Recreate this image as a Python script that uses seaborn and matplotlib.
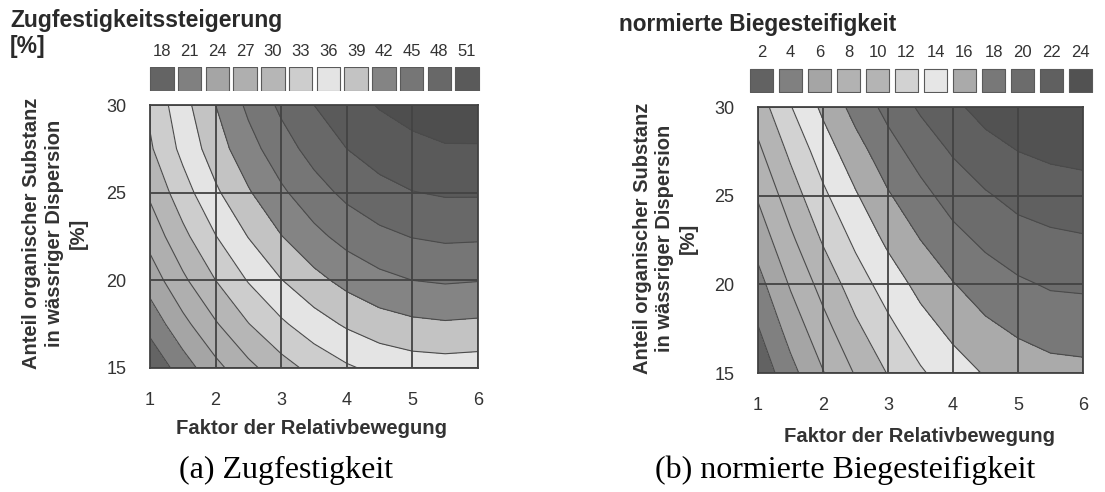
import numpy as np
import matplotlib
matplotlib.use("Agg")
import matplotlib.pyplot as plt
import seaborn as sns

# shared axes: factor of relative motion (x) and organic share in dispersion (y)
x_factor = [1.0, 1.5, 2.0, 2.5, 3.0, 3.5, 4.0, 4.5, 5.0, 5.5, 6.0]
y_share = [15.0, 17.5, 20.0, 22.5, 25.0, 27.5, 30.0]

# (a) Zugfestigkeitssteigerung [%], one row per y_share value
zug_rows = [
    [18.5, 22.5, 26.1, 29.2, 31.8, 33.9, 35.6, 36.8, 37.5, 37.7, 37.5],
    [22.1, 26.1, 29.7, 32.9, 35.5, 37.7, 39.4, 40.7, 41.4, 41.7, 41.5],
    [25.3, 29.4, 33.0, 36.2, 38.9, 41.1, 42.9, 44.2, 45.0, 45.3, 45.1],
    [28.1, 32.2, 35.9, 39.1, 41.9, 44.2, 46.0, 47.3, 48.1, 48.5, 48.4],
    [30.5, 34.7, 38.5, 41.7, 44.5, 46.8, 48.7, 50.0, 50.9, 51.3, 51.3],
    [32.6, 36.8, 40.6, 43.9, 46.7, 49.1, 51.0, 52.4, 53.3, 53.8, 53.8],
    [33.6, 37.9, 42.0, 45.6, 48.6, 51.0, 52.9, 54.2, 55.0, 55.4, 55.5],
]
zug_levels = [18, 21, 24, 27, 30, 33, 36, 39, 42, 45, 48, 51]
zug_grays = [100, 128, 165, 175, 182, 205, 228, 195, 132, 118, 104, 90, 78]

# (b) normierte Biegesteifigkeit
bieg_rows = [
    [2.5, 5.35, 7.9, 10.15, 12.1, 13.75, 15.1, 16.15, 16.9, 17.35, 17.5],
    [3.9, 6.8, 9.3, 11.6, 13.5, 15.2, 16.5, 17.6, 18.3, 18.8, 18.9],
    [5.3, 8.2, 10.7, 13.0, 14.9, 16.6, 17.9, 19.0, 19.7, 20.2, 20.3],
    [6.8, 9.6, 12.2, 14.4, 16.4, 18.0, 19.4, 20.4, 21.2, 21.6, 21.8],
    [8.2, 11.0, 13.6, 15.8, 17.8, 19.4, 20.8, 21.8, 22.6, 23.0, 23.2],
    [9.6, 12.4, 15.0, 17.2, 19.2, 20.8, 22.2, 23.3, 24.0, 24.4, 24.6],
    [11.0, 13.9, 16.4, 18.7, 20.6, 22.3, 23.6, 24.7, 25.4, 25.9, 26.0],
]
bieg_levels = [2, 4, 6, 8, 10, 12, 14, 16, 18, 20, 22, 24]
bieg_grays = [98, 128, 165, 178, 180, 210, 230, 170, 120, 108, 96, 82, 72]

x_ticks = [1, 2, 3, 4, 5, 6]
y_ticks = [15, 20, 25, 30]

sns.set_theme(style="white")
plt.rcParams["font.family"] = ["Liberation Sans", "DejaVu Sans"]

W, H = 1105, 492
fig = plt.figure(figsize=(W / 100, H / 100), dpi=100)


def px(x0, y0, x1, y1):
    return [x0 / W, 1 - y1 / H, (x1 - x0) / W, (y1 - y0) / H]


def hexgray(g):
    return "#{0:02x}{0:02x}{0:02x}".format(g)


def contour_panel(rect, rows, levels, grays):
    ax = fig.add_axes(rect)
    step = levels[1] - levels[0]
    bounds = levels + [levels[-1] + step]
    cols = [hexgray(g) for g in grays]
    X, Y = np.meshgrid(x_factor, y_share)
    Z = np.array(rows)
    ax.contourf(X, Y, Z, levels=bounds, colors=cols, extend="max")
    ax.contour(X, Y, Z, levels=bounds, colors="#4a4a4a", linewidths=0.8)
    ax.set_xlim(1, 6)
    ax.set_ylim(15, 30)
    ax.set_xticks(x_ticks)
    ax.set_yticks(y_ticks)
    ax.grid(True, color="#434343", linewidth=1.3)
    ax.set_axisbelow(False)
    ax.tick_params(length=0, pad=17, labelsize=13, labelcolor="#333333")
    for s in ax.spines.values():
        s.set_color("#434343")
        s.set_linewidth(1.3)
    return ax


def legend_strip(rect, levels, grays):
    ax = fig.add_axes(rect)
    cols = [hexgray(g) for g in grays[:len(levels)]]
    labels = [str(v) for v in levels]
    sns.scatterplot(x=list(range(len(levels))), y=[0] * len(levels), hue=labels,
                    palette=cols, marker="s", s=290, edgecolor="#5a5a5a",
                    linewidth=0.8, legend=False, ax=ax)
    ax.set_xlim(-0.5, len(levels) - 0.5)
    ax.set_ylim(-0.5, 0.5)
    ax.xaxis.tick_top()
    ax.set_xticks(range(len(levels)))
    ax.set_xticklabels(labels)
    ax.set_yticks([])
    ax.set_xlabel("")
    ax.set_ylabel("")
    ax.tick_params(length=0, pad=6, labelsize=12, labelcolor="#333333")
    for s in ax.spines.values():
        s.set_visible(False)
    ax.patch.set_alpha(0)
    return ax


def text_px(x, y, s, **kw):
    fig.text(x / W, 1 - y / H, s, **kw)


ylabel_lines = ["Anteil organischer Substanz", "in wässriger Dispersion", "[%]"]

# panel (a)
contour_panel(px(150, 105, 478, 368), zug_rows, zug_levels, zug_grays)
legend_strip(px(148, 67, 481, 91), zug_levels, zug_grays)
text_px(10, 21, "Zugfestigkeitssteigerung", fontsize=16.5, fontweight="bold",
        color="#2a2a2a", va="center", ha="left")
text_px(10, 47, "[%]", fontsize=16.5, fontweight="bold", color="#2a2a2a",
        va="center", ha="left")
for xc, line in zip([32, 55, 78], ylabel_lines):
    text_px(xc, 233, line, fontsize=14.5, fontweight="bold", color="#333333",
            rotation=90, va="center", ha="center")
text_px(311, 428, "Faktor der Relativbewegung", fontsize=14.6, fontweight="bold",
        color="#333333", va="center", ha="center")
text_px(286, 470, "(a) Zugfestigkeit", fontsize=23, family="Liberation Serif",
        color="black", va="center", ha="center")

# panel (b)
contour_panel(px(758, 107, 1083, 373), bieg_rows, bieg_levels, bieg_grays)
legend_strip(px(747, 68, 1095, 93), bieg_levels, bieg_grays)
text_px(619, 25, "normierte Biegesteifigkeit", fontsize=16.3, fontweight="bold",
        color="#2a2a2a", va="center", ha="left")
for xc, line in zip([642, 664, 688], ylabel_lines):
    text_px(xc, 238, line, fontsize=14.5, fontweight="bold", color="#333333",
            rotation=90, va="center", ha="center")
text_px(920, 436, "Faktor der Relativbewegung", fontsize=14.6, fontweight="bold",
        color="#333333", va="center", ha="center")
text_px(845, 470, "(b) normierte Biegesteifigkeit", fontsize=23,
        family="Liberation Serif", color="black", va="center", ha="center")

fig.savefig("out.png", dpi=100)
